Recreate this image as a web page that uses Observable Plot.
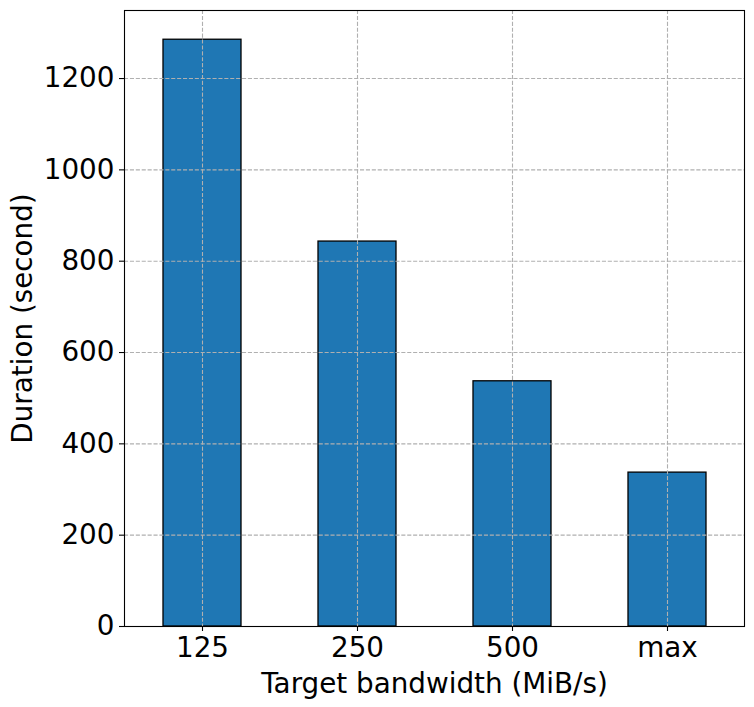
<!DOCTYPE html>
<html>
<head>
<meta charset="utf-8">
<script src="https://cdn.jsdelivr.net/npm/d3@7"></script>
<script src="https://cdn.jsdelivr.net/npm/@observablehq/plot@0.6"></script>
<style>
  html, body { margin: 0; padding: 0; background: #fff; }
  #chart svg { display: block; }
</style>
</head>
<body>
<div id="chart"></div>
<script>
const categories = ["125", "250", "500", "max"];
const durations = [1285, 843, 537, 337];
const yTicks = [0, 200, 400, 600, 800, 1000, 1200];
const xLabel = "Target bandwidth (MiB/s)";
const yLabel = "Duration (second)";

const data = categories.map((c, i) => ({bw: c, dur: durations[i]}));

const FONT = "DejaVu Sans, sans-serif";
const gridStyle = {stroke: "#b0b0b0", strokeOpacity: 1, strokeWidth: 1.1, strokeDasharray: "4.1,1.8"};

const chart = Plot.plot({
  width: 754,
  height: 707,
  marginTop: 10,
  marginRight: 10,
  marginBottom: 81,
  marginLeft: 124,
  style: {fontFamily: FONT, background: "#fff", color: "#000"},
  x: {domain: categories, paddingInner: 0.5, paddingOuter: 0.25, align: 0.5},
  y: {domain: [0, 1349]},
  marks: [
    Plot.barY(data, {x: "bw", y: "dur", fill: "#1f77b4", stroke: "#000", strokeWidth: 1.3}),
    Plot.gridX({...gridStyle}),
    Plot.gridY(yTicks, {...gridStyle}),
    Plot.frame({stroke: "#000", strokeWidth: 1.1}),
    Plot.axisX({
      tickSize: 5, tickPadding: 6, fontSize: 27.8, strokeWidth: 1.1,
      label: xLabel, labelAnchor: "center", labelArrow: "none", labelOffset: 66
    }),
    Plot.axisY(yTicks, {
      tickSize: 5, tickPadding: 5, fontSize: 27.8, strokeWidth: 1.1,
      tickFormat: (d) => String(d),
      label: yLabel, labelAnchor: "center", labelArrow: "none", labelOffset: 112
    })
  ]
});

document.getElementById("chart").appendChild(chart);
</script>
</body>
</html>
